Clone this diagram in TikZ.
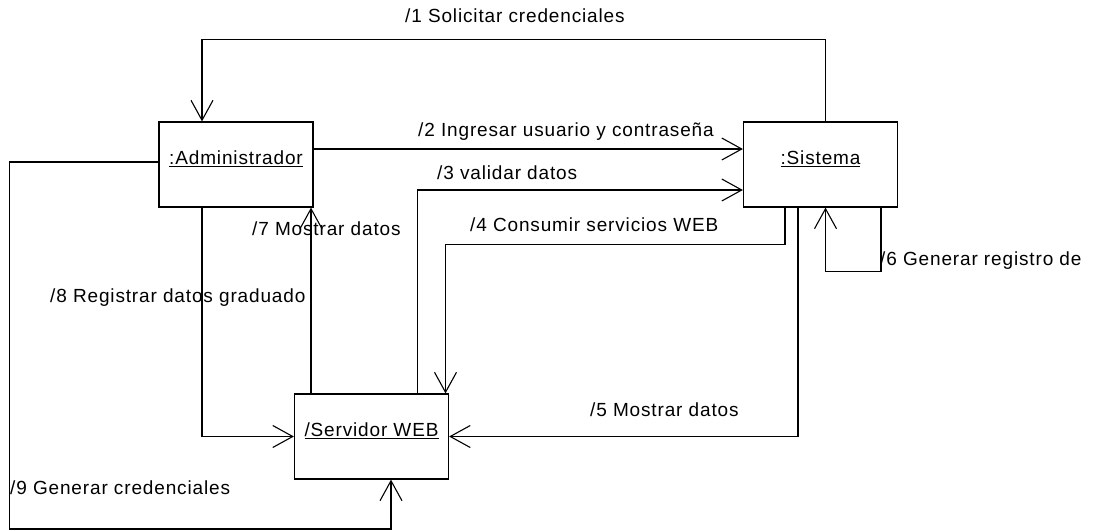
\documentclass[tikz,border=0pt]{standalone}
\usepackage{fontspec}
\setmainfont[LetterSpace=4.5]{Liberation Sans}
\usepackage{tikz}
\usetikzlibrary{arrows.meta}

\begin{document}
\begin{tikzpicture}[
          x=1pt, y=-1pt,
          obj/.style={rectangle, draw, line width=1.2pt, minimum width=154pt,
                      minimum height=85pt, inner sep=0pt, align=center,
                      text depth=13pt, font=\fontsize{19}{22}\selectfont},
          msg/.style={anchor=west, inner sep=0pt, font=\fontsize{19}{22}\selectfont},
          arr/.style={-{Straight Barb[length=20pt, width=22pt, line width=1.1pt]},
                      line width=1.2pt}
        ]
        \useasboundingbox (0,0) rectangle (1094,530);

        \node[obj] (adm) at (236,164.5) {\underline{:Administrador}};
        \node[obj] (sis) at (820.5,164.5) {\underline{:Sistema}};
        \node[obj] (srv) at (371.5,436.5) {\underline{/Servidor WEB}};

        % mensajes
        \draw[arr] ([xshift=5pt]sis.north) -- ++(0,-82) -| ([xshift=-34pt]adm.north);
        \draw[arr] ([yshift=15.5pt]adm.east) -- ([yshift=15.5pt]sis.west);
        \draw[arr] ([xshift=46pt]srv.north) |- ([yshift=-25.5pt]sis.west);
        \draw[arr] ([xshift=-35.5pt]sis.south) -- ++(0,37) -| ([xshift=74pt]srv.north);
        \draw[arr] ([xshift=-22.5pt]sis.south) |- (srv.east);
        \draw[arr] ([xshift=60.5pt]sis.south) -- ++(0,64) -| ([xshift=5pt]sis.south);
        \draw[arr] ([xshift=-60.5pt]srv.north) -- ([xshift=75pt]adm.south);
        \draw[arr] ([xshift=-34pt]adm.south) |- (srv.west);
        \draw[arr] ([yshift=2.5pt]adm.west) -- ++(-149,0) -- ++(0,367)
              -| ([xshift=19.5pt]srv.south);

        \node[msg] (m1) at (405,16) {/1 Solicitar credenciales};
        \node[msg] (m2) at (418,132) {/2 Ingresar usuario y contraseña};
        \node[msg] (m3) at (437,173) {/3 validar datos};
        \node[msg] (m4) at (470,225) {/4 Consumir servicios WEB};
        \node[msg] (m5) at (590,410) {/5 Mostrar datos};
        \node[msg] (m6) at (880,261) {/6 Generar registro de};
        \node[msg] (m7) at (252,229) {/7 Mostrar datos};
        \node[msg] (m8) at (50,298) {/8 Registrar datos graduado};
        \node[msg] (m9) at (10,488) {/9 Generar credenciales};
\end{tikzpicture}
\end{document}
